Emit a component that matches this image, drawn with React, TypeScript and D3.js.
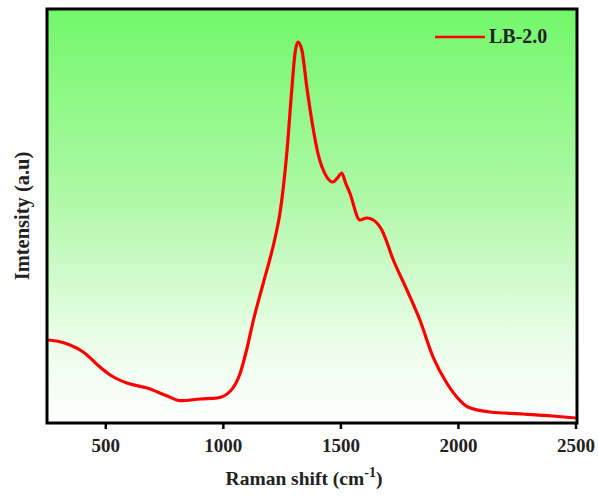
import React from 'react'
import * as d3 from 'd3'

// Raman shift (cm-1) and intensity (a.u.)
const shift = [250, 300, 348, 404, 475, 519, 590, 676, 762, 817, 902, 974, 1030, 1072, 1102, 1128, 1170, 1220, 1241, 1270, 1292, 1305, 1317, 1334, 1355, 1376, 1402, 1440, 1466, 1485, 1504, 1520, 1538, 1581, 1610, 1638, 1674, 1723, 1781, 1836, 1892, 1950, 1993, 2040, 2134, 2274, 2400, 2500]
const intensity = [830, 815, 780, 710, 560, 480, 400, 350, 270, 223, 240, 250, 320, 500, 760, 1030, 1400, 1850, 2100, 2700, 3360, 3700, 3810, 3730, 3360, 3030, 2700, 2460, 2410, 2450, 2500, 2400, 2300, 2030, 2050, 2030, 1930, 1630, 1330, 1030, 660, 400, 260, 160, 110, 90, 70, 50]
const xTicks = [500, 1000, 1500, 2000, 2500]
const seriesName = 'LB-2.0'

export default function App() {
  const width = 598, height = 499
  const left = 47, right = 577, top = 9, bottom = 423

  const x = d3.scaleLinear().domain([250, 2500]).range([left, 576])
  const y = d3.scaleLinear().domain([0, 4140]).range([bottom, top])

  const pts: [number, number][] = shift.map((s, i) => [s, intensity[i]])
  const line = d3.line<[number, number]>()
    .x(d => x(d[0]))
    .y(d => y(d[1]))
    .curve(d3.curveMonotoneX)

  const font = '"Liberation Serif", "Times New Roman", serif'

  return (
    <svg width={width} height={height} style={{position: 'absolute', left: 0, top: 0}}>
      <defs>
        <linearGradient id="bg" x1="0" y1="0" x2="0" y2="1">
          <stop offset="0%" stopColor="#72f86a" />
          <stop offset="45%" stopColor="#aef8a6" />
          <stop offset="80%" stopColor="#eafde8" />
          <stop offset="100%" stopColor="#ffffff" />
        </linearGradient>
        <clipPath id="clip">
          <rect x={left} y={top} width={right - left} height={bottom - top} />
        </clipPath>
      </defs>
      <rect x={left} y={top} width={right - left} height={bottom - top} fill="url(#bg)" />

      <path d={line(pts) || ''} fill="none" stroke="#ff0000" strokeWidth={3.2} strokeLinejoin="round" clipPath="url(#clip)" />

      <rect x={left} y={top} width={right - left} height={bottom - top} fill="none" stroke="#000" strokeWidth={3} />

      {xTicks.map(t => (
        <g key={t}>
          <line x1={x(t)} x2={x(t)} y1={bottom} y2={bottom + 6} stroke="#000" strokeWidth={2.5} />
          <text x={x(t)} y={452} textAnchor="middle" fontFamily={font} fontWeight="bold" fontSize={19} fill="#222">{t}</text>
        </g>
      ))}

      <text x={304} y={485} textAnchor="middle" fontFamily={font} fontWeight="bold" fontSize={19.5} fill="#222">
        Raman shift (cm<tspan dy={-8} fontSize={14}>-1</tspan><tspan dy={8}>)</tspan>
      </text>

      <text transform={`translate(29, 216) rotate(-90)`} textAnchor="middle" fontFamily={font} fontWeight="bold" fontSize={20.5} fill="#222">Imtensity (a.u)</text>

      <line x1={435} x2={485} y1={37} y2={37} stroke="#ff0000" strokeWidth={2.5} />
      <text x={489} y={43} fontFamily={font} fontWeight="bold" fontSize={20} fill="#222">{seriesName}</text>
    </svg>
  )
}
